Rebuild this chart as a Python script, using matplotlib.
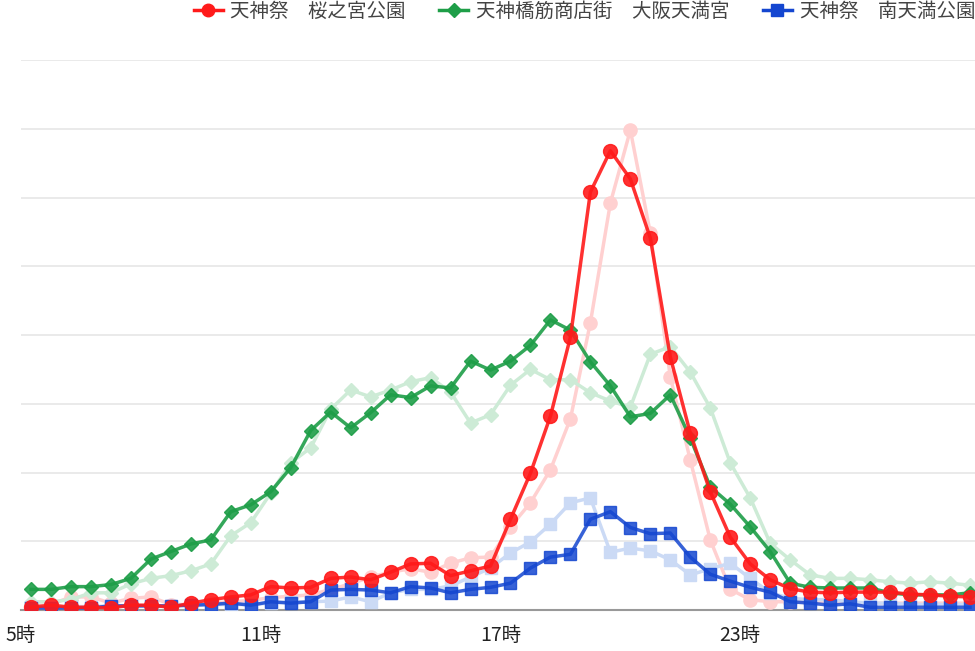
import numpy as np
import matplotlib
matplotlib.use("Agg")
import matplotlib.pyplot as plt
from matplotlib.lines import Line2D

plt.rcParams['font.family'] = ['Noto Sans CJK JP', 'DejaVu Sans']

# half-hour samples, 5:15 .. 28:45 (next day 4:45)
hours = np.arange(48) * 0.5 + 5.25

labels = ['天神祭　桜之宮公園', '天神橋筋商店街　大阪天満宮', '天神祭　南天満公園']

# current values
sakuranomiya = [4, 7, 4, 4, 3, 7, 7, 4, 10, 15, 19, 22, 34, 32, 33, 46,
                48, 44, 55, 67, 68, 50, 57, 64, 132, 199, 282, 397, 608, 668, 627, 541,
                368, 257, 172, 106, 67, 44, 31, 26, 25, 26, 26, 26, 23, 22, 20, 19]
tenjinbashi = [30, 30, 34, 34, 37, 46, 74, 85, 96, 102, 143, 153, 172, 207, 261, 288,
               265, 287, 313, 309, 326, 323, 362, 349, 362, 385, 422, 407, 361, 326, 281, 286,
               313, 250, 179, 154, 121, 85, 39, 33, 32, 32, 32, 25, 22, 22, 22, 25]
minamitenma = [3, 3, 3, 3, 6, 6, 6, 6, 7, 8, 10, 7, 12, 10, 12, 29,
               30, 29, 25, 34, 32, 25, 30, 33, 39, 61, 77, 81, 132, 143, 120, 111,
               112, 77, 52, 42, 33, 26, 12, 10, 7, 9, 4, 4, 4, 4, 4, 4]

# comparison day (faded lines)
sakuranomiya_prev = [6, 8, 19, 19, 10, 17, 19, 8, 8, 10, 12, 14, 18, 20, 22, 30,
                     38, 48, 55, 60, 55, 68, 76, 77, 121, 156, 204, 278, 418, 592, 698, 548,
                     339, 218, 102, 30, 15, 12, 12, 12, 12, 10, 10, 10, 10, 10, 10, 10]
tenjinbashi_prev = [12, 12, 15, 25, 25, 38, 46, 50, 57, 67, 108, 127, 170, 214, 236, 292,
                    320, 310, 320, 332, 338, 317, 272, 284, 327, 350, 335, 335, 316, 304, 295, 372,
                    383, 346, 294, 214, 163, 97, 73, 51, 46, 46, 44, 41, 39, 41, 39, 36]
minamitenma_prev = [5, 5, 5, 5, 6, 6, 6, 6, 7, 8, 8, 8, 10, 12, 12, 13,
                    19, 12, 25, 30, 30, 35, 48, 61, 83, 99, 125, 156, 163, 84, 90, 86,
                    73, 51, 60, 68, 46, 25, 17, 15, 15, 12, 10, 10, 8, 8, 8, 8]

red, green, blue = '#ff1a1a', '#1e9e48', '#1446d0'
red_l, green_l, blue_l = '#ffd0d0', '#cdebd6', '#cbdaf5'

fig = plt.figure(figsize=(9.75, 6.51), dpi=100)
ax = fig.add_axes([21 / 975, 41 / 651, 954 / 975, 550 / 651])

# faded comparison lines underneath
ax.plot(hours, sakuranomiya_prev, color=red_l, lw=2.5, marker='o', ms=9.5, zorder=2)
ax.plot(hours, tenjinbashi_prev, color=green_l, lw=2.5, marker='D', ms=7, zorder=2)
ax.plot(hours, minamitenma_prev, color=blue_l, lw=2.5, marker='s', ms=9, zorder=2)

ax.plot(hours, minamitenma, color=blue, lw=2.5, marker='s', ms=9, alpha=0.85, zorder=3)
ax.plot(hours, tenjinbashi, color=green, lw=2.5, marker='D', ms=7, alpha=0.9, zorder=3)
ax.plot(hours, sakuranomiya, color=red, lw=2.5, marker='o', ms=10, alpha=0.9, zorder=3)

ax.set_xlim(5.025, 28.875)
ax.set_ylim(0, 800)
ax.set_yticks(np.arange(100, 801, 100))
ax.set_yticklabels([])
ax.grid(axis='y', color='#e8e8e8', lw=1.3)
ax.set_axisbelow(True)

ax.set_xticks([5, 11, 17, 23])
ax.set_xticklabels(['5時', '11時', '17時', '23時'], fontsize=14, color='#222222')
ax.tick_params(axis='both', length=0, pad=11)

for s in ['top', 'right', 'left']:
    ax.spines[s].set_visible(False)
ax.spines['bottom'].set_color('#999999')
ax.spines['bottom'].set_linewidth(1.5)
ax.spines['bottom'].set_zorder(1)

handles = [Line2D([], [], color=c, lw=2.5, marker=m, ms=s)
           for c, m, s in [(red, 'o', 9), (green, 'D', 7), (blue, 's', 8)]]
fig.legend(handles, labels, loc='upper right', bbox_to_anchor=(1.0, 0.998), ncol=3,
           frameon=False, fontsize=14, handlelength=1.5, handletextpad=0.4,
           columnspacing=1.7, borderaxespad=0, borderpad=0, labelcolor='#444444')

fig.savefig('out.png', dpi=100)
